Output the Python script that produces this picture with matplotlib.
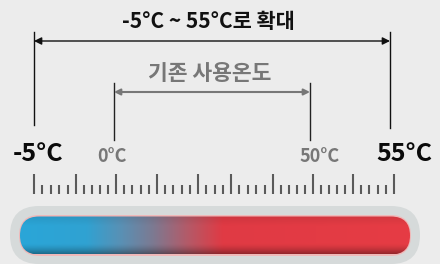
import numpy as np
import matplotlib
matplotlib.use('Agg')
import matplotlib.pyplot as plt
from matplotlib.patches import FancyBboxPatch
from matplotlib.colors import to_rgb

plt.rcParams['font.family'] = ['Noto Sans CJK KR', 'DejaVu Sans']

# ---- data ----
title_text = '-5°C ~ 55°C로 확대'
inner_text = '기존 사용온도'
range_wide = [-5, 55]       # extended range
range_old = [0, 50]         # previous range
temp_labels = ['-5°C', '0°C', '50°C', '55°C']
label_bold = [True, False, False, True]

# schematic (non-linear) placement of the temperature marks on the canvas
temp_anchor = [-5, 0, 50, 55]
pixel_anchor = [34, 114, 310, 390]

# ruler: major tick positions and number of minor ticks in each gap
major_ticks = [34, 76, 116, 157, 198, 231, 273, 313, 353, 394]
minor_counts = [4, 4, 4, 4, 3, 4, 4, 4, 4]

# thermometer gradient (fraction along bar, colour)
grad_pos = [0.0, 0.17, 0.26, 0.34, 0.43, 0.52, 1.0]
grad_col = ['#2aa6d8', '#30a2d2', '#5a90b4', '#7c7a92', '#b45a68', '#e03a44', '#e63c44']

BG = '#ececec'
GRAY = '#777777'


def tx(t):
    return np.interp(t, temp_anchor, pixel_anchor)


fig = plt.figure(figsize=(4.4, 2.64), dpi=100, facecolor=BG)
ax = fig.add_axes([0, 0, 1, 1])
ax.set_xlim(0, 440)
ax.set_ylim(264, 0)
ax.axis('off')
ax.set_facecolor(BG)

# title + wide range arrow
ax.text(208, 21, title_text, ha='center', va='center', fontsize=15,
        fontweight='bold', color='#111111')
x0, x1 = tx(range_wide[0]), tx(range_wide[1])
ax.plot([x0, x0], [32, 125], color='#111111', lw=1.0)
ax.plot([x1, x1], [32, 128], color='#111111', lw=1.0)
ax.annotate('', xy=(x0, 41), xytext=(x1, 41),
            arrowprops=dict(arrowstyle='<|-|>', color='#111111', lw=1.0,
                            mutation_scale=11, shrinkA=0, shrinkB=0))

# old range
ax.text(209.5, 74, inner_text, ha='center', va='center', fontsize=15.5,
        fontweight='bold', color=GRAY)
o0, o1 = tx(range_old[0]), tx(range_old[1])
ax.plot([o0, o0], [83, 140], color='#222222', lw=1.0)
ax.plot([o1, o1], [83, 140], color='#222222', lw=1.0)
ax.annotate('', xy=(o0, 92), xytext=(o1, 92),
            arrowprops=dict(arrowstyle='<|-|>', color=GRAY, lw=1.5,
                            mutation_scale=9, shrinkA=0, shrinkB=0))

# temperature labels
label_x = [38, 112, 320, 404]
for lab, lx, b in zip(temp_labels, label_x, label_bold):
    if b:
        ax.text(lx, 154, lab, ha='center', va='center', fontsize=18,
                fontweight='bold', color='#0a0a0a')
    else:
        ax.text(lx, 157, lab, ha='center', va='center', fontsize=13,
                fontweight='bold', color=GRAY)

# ruler
for i, m in enumerate(major_ticks):
    ax.plot([m, m], [174, 194], color='#5a5a5a', lw=1.5, solid_capstyle='butt')
    if i < len(minor_counts):
        n = minor_counts[i]
        nxt = major_ticks[i + 1]
        for k in range(1, n + 1):
            mx = m + (nxt - m) * k / (n + 1)
            ax.plot([mx, mx], [185, 194], color='#5a5a5a', lw=1.5,
                    solid_capstyle='butt')

# thermometer bar
outer = FancyBboxPatch((10, 206), 410, 58,
                       boxstyle='round,pad=0,rounding_size=29',
                       fc='#d6dada', ec='none', zorder=2)
ax.add_patch(outer)
pink = FancyBboxPatch((19, 215), 392, 41,
                      boxstyle='round,pad=0,rounding_size=20.5',
                      fc='#f0b8b8', ec='none', zorder=3)
ax.add_patch(pink)
inner = FancyBboxPatch((20, 216.5), 390, 38,
                       boxstyle='round,pad=0,rounding_size=19',
                       fc='none', ec='none', zorder=4)
ax.add_patch(inner)

W, H = 400, 60
xs = np.linspace(0, 1, W)
cols = np.array([to_rgb(c) for c in grad_col])
row = np.stack([np.interp(xs, grad_pos, cols[:, j]) for j in range(3)], axis=1)
ys = np.linspace(0, 1, H)
shade = 1.0 - 0.08 * np.clip((0.25 - ys) / 0.25, 0, 1) - 0.35 * np.clip((ys - 0.72) / 0.28, 0, 1) ** 1.5
img = row[None, :, :] * shade[:, None, None]
im = ax.imshow(np.clip(img, 0, 1), extent=[20, 410, 254.5, 216.5], aspect='auto',
               zorder=5, interpolation='bilinear')
im.set_clip_path(inner)

fig.savefig('out.png', dpi=100, facecolor=BG)
